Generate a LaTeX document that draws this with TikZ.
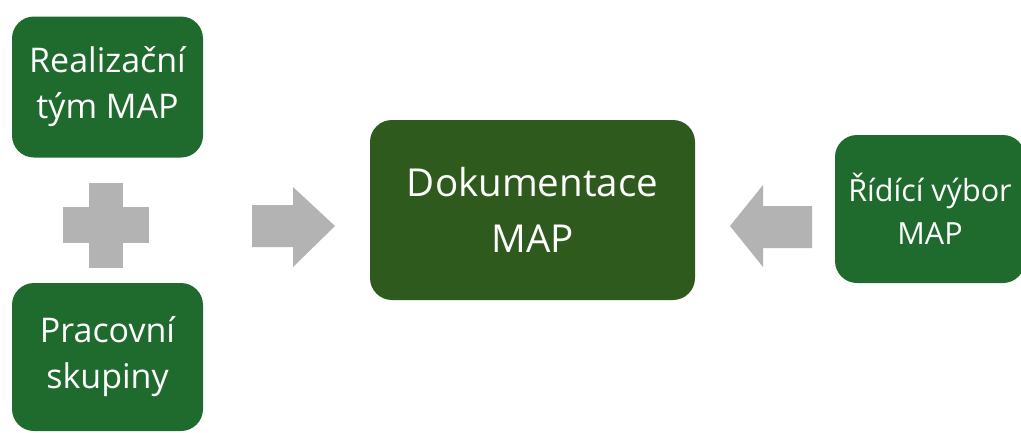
\documentclass[tikz,border=0pt]{standalone}
\usepackage{fontspec}
\setmainfont{Open Sans}
\definecolor{boxgreen}{HTML}{1F6B2E}
\definecolor{docgreen}{HTML}{2F5A1D}
\definecolor{arrowgray}{HTML}{B3B3B3}
\begin{document}
\begin{tikzpicture}[x=1pt,y=-1pt,
  gbox/.style={fill=boxgreen, rounded corners=22pt, text=white, align=center, inner sep=0pt},
  gshape/.style={fill=arrowgray}]
\useasboundingbox (0,0) rectangle (1021,432);
% boxes
\node[gbox, minimum width=191pt, minimum height=141pt, font=\fontsize{34}{46}\selectfont] (real) at (107.5,87) {Realizační\\tým MAP};
\node[gbox, minimum width=191pt, minimum height=148pt, font=\fontsize{34}{46}\selectfont] (prac) at (107.5,357) {Pracovní\\skupiny};
\node[gbox, fill=docgreen, minimum width=325pt, minimum height=180pt, font=\fontsize{38.5}{56}\selectfont] (doc) at (532.5,210) {Dokumentace\\MAP};
\node[gbox, minimum width=190pt, minimum height=148pt, font=\fontsize{30.5}{43}\selectfont] (rid) at (930,209) {Řídící výbor\\MAP};
% plus sign
\fill[gshape] (89,183) rectangle (123,268);
\fill[gshape] (63,207) rectangle (149,243);
% right arrow
\fill[gshape] (252,205) -- (293,205) -- (293,187) -- (335,226) -- (293,267) -- (293,247) -- (252,247) -- cycle;
% left arrow
\fill[gshape] (812,206) -- (763,206) -- (763,185) -- (730,226) -- (763,267) -- (763,248) -- (812,248) -- cycle;
\end{tikzpicture}
\end{document}
